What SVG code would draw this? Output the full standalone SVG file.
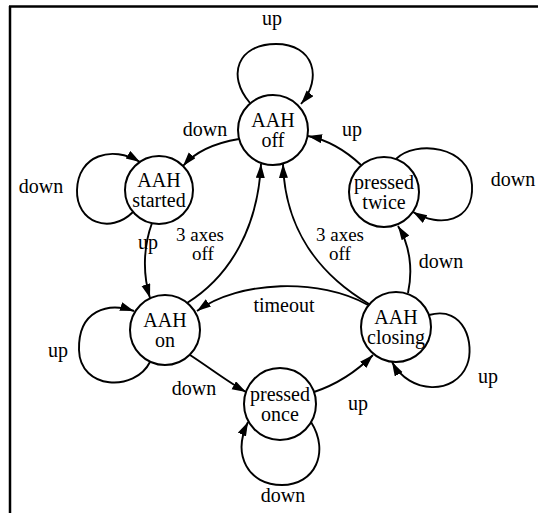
<svg xmlns="http://www.w3.org/2000/svg" width="538" height="513" viewBox="0 0 538 513">
<style>
.node{fill:#fff;stroke:#000;stroke-width:2}
.e{fill:none;stroke:#000;stroke-width:1.9}
text{font-family:"Liberation Serif","Times New Roman",serif;font-size:20px;fill:#000;text-anchor:middle}
.sm{font-size:19px}
</style>
<defs>
<marker id="ah" markerUnits="userSpaceOnUse" markerWidth="15" markerHeight="10" refX="14" refY="4.5" orient="auto">
<path d="M0,0 L14,4.5 L0,9 z" fill="#000"/>
</marker>
</defs>
<rect width="538" height="513" fill="#fff"/>
<g id="frame">
<line x1="9" y1="6.5" x2="538" y2="6.5" stroke="#000" stroke-width="2.5"/>
<line x1="10" y1="6" x2="10" y2="513" stroke="#000" stroke-width="2.5"/>
</g>
<g id="connectors">
<path class="e" marker-end="url(#ah)" d="M250 103 C226 75,238 44,276 44 C314 44,323 78,301 104"/>
<path class="e" marker-end="url(#ah)" d="M239 139 C215 143,195 152,183 166"/>
<path class="e" marker-end="url(#ah)" d="M133 212 C110 235,76 222,77 190 C78 155,112 145,140 162"/>
<path class="e" marker-end="url(#ah)" d="M152 223 C144 245,142 272,150 298"/>
<path class="e" marker-end="url(#ah)" d="M187 303 C232 275,258 225,261 164"/>
<path class="e" marker-end="url(#ah)" d="M369 304 C320 275,285 230,283 164"/>
<path class="e" marker-end="url(#ah)" d="M361 165 C345 150,328 140,308 136"/>
<path class="e" marker-end="url(#ah)" d="M396 159 C415 140,470 145,472 185 C474 222,440 228,413 212"/>
<path class="e" marker-end="url(#ah)" d="M408 293 C413 270,410 245,398 226"/>
<path class="e" marker-end="url(#ah)" d="M368 305 C320 278,240 280,197 311"/>
<path class="e" marker-end="url(#ah)" d="M150 362 C135 392,80 390,79 350 C78 310,108 302,134 311"/>
<path class="e" marker-end="url(#ah)" d="M190 355 C210 368,228 382,246 392"/>
<path class="e" marker-end="url(#ah)" d="M311 422 C330 452,315 485,282 485 C248 485,232 455,248 422"/>
<path class="e" marker-end="url(#ah)" d="M314 392 C335 385,355 373,373 355"/>
<path class="e" marker-end="url(#ah)" d="M429 315 C465 305,475 345,467 365 C455 395,410 395,392 362"/>
<text x="272" y="25">up</text>
<text x="205" y="136">down</text>
<text x="352" y="136">up</text>
<text x="41" y="193">down</text>
<text x="513" y="186">down</text>
<text x="148" y="249">up</text>
<text class="sm" x="200" y="241">3 axes</text>
<text class="sm" x="203" y="260">off</text>
<text class="sm" x="340" y="241">3 axes</text>
<text class="sm" x="340" y="260">off</text>
<text x="441" y="268">down</text>
<text x="284" y="312">timeout</text>
<text x="58" y="357">up</text>
<text x="194" y="395">down</text>
<text x="358" y="410">up</text>
<text x="488" y="383">up</text>
<text x="283" y="502">down</text>
</g>
<g id="aah-off"><circle class="node" cx="273" cy="130" r="35"/><text x="273" y="127">AAH</text><text x="273" y="147">off</text></g>
<g id="aah-started"><circle class="node" cx="159" cy="190" r="34"/><text x="159" y="187">AAH</text><text x="159" y="207">started</text></g>
<g id="pressed-twice"><circle class="node" cx="384" cy="192" r="35"/><text x="384" y="189">pressed</text><text x="384" y="209">twice</text></g>
<g id="aah-on"><circle class="node" cx="165" cy="330" r="35"/><text x="165" y="327">AAH</text><text x="165" y="347">on</text></g>
<g id="aah-closing"><circle class="node" cx="396" cy="327" r="35"/><text x="396" y="324">AAH</text><text x="396" y="344">closing</text></g>
<g id="pressed-once"><circle class="node" cx="280" cy="404" r="36"/><text x="280" y="401">pressed</text><text x="280" y="421">once</text></g>
</svg>
